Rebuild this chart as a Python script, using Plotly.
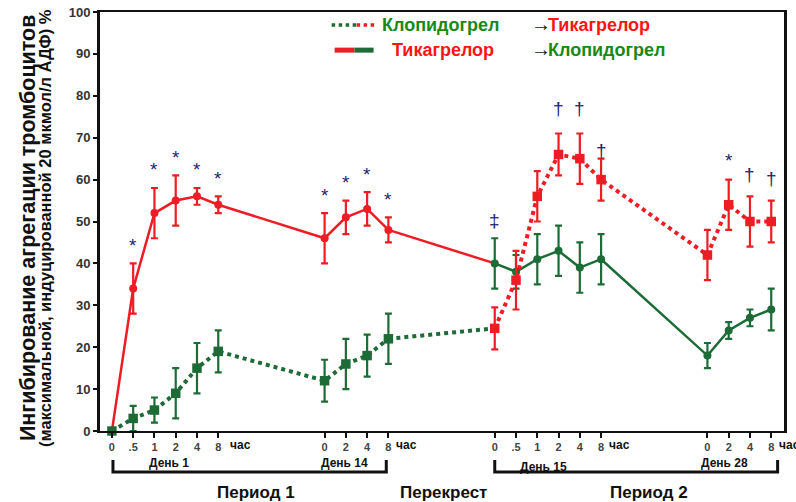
import plotly.graph_objects as go

# ---------------- data ----------------
time_labels_p1 = ["0", ".5", "1", "2", "4", "8", "0", "2", "4", "8"]
time_labels_p2 = ["0", ".5", "1", "2", "4", "8", "0", "2", "4", "8"]
slots_p1 = [0, 1, 2, 3, 4, 5, 10, 11, 12, 13]
slots_p2 = [18, 19, 20, 21, 22, 23, 28, 29, 30, 31]

# Period 1
tica_p1 = [0, 34, 52, 55, 56, 54, 46, 51, 53, 48]
tica_p1_err = [0, 6, 6, 6, 2, 2, 6, 4, 4, 3]
clop_p1 = [0, 3, 5, 9, 15, 19, 12, 16, 18, 22]
clop_p1_err = [0, 3, 3, 6, 6, 5, 5, 6, 5, 6]

# Period 2 (crossover)
tica_to_clop = [40, 38, 41, 43, 39, 41, 18, 24, 27, 29]
tica_to_clop_err = [6, 4, 6, 6, 6, 6, 3, 2, 2, 5]
clop_to_tica = [24.5, 36, 56, 66, 65, 60, 42, 54, 50, 50]
clop_to_tica_err = [5, 7, 6, 5, 6, 5, 6, 6, 6, 5]

marks_p1 = ["", "*", "*", "*", "*", "*", "*", "*", "*", "*"]
marks_p2 = ["", "", "", "†", "†", "†", "", "*", "†", "†"]
marks_p2_green = ["‡", "", "", "", "", "", "", "", "", ""]

RED = "#ee1c24"
GREEN = "#1d6b36"
NAVY = "#24246b"
TXT_GREEN = "#168a16"
TXT_RED = "#ff1414"
FONT = "Liberation Sans, Arial, sans-serif"

fig = go.Figure()

# connectors between periods
fig.add_trace(go.Scatter(x=[slots_p1[-1], slots_p2[0]], y=[clop_p1[-1], clop_to_tica[0]],
                         mode="lines", line=dict(color=GREEN, width=4, dash="dot"),
                         showlegend=False, hoverinfo="skip"))
fig.add_trace(go.Scatter(x=[slots_p1[-1], slots_p2[0]], y=[tica_p1[-1], tica_to_clop[0]],
                         mode="lines", line=dict(color=RED, width=2.5),
                         showlegend=False, hoverinfo="skip"))

fig.add_trace(go.Scatter(x=slots_p1, y=tica_p1, mode="lines+markers",
                         line=dict(color=RED, width=2.5),
                         marker=dict(symbol="circle", size=8, color=RED),
                         error_y=dict(type="data", array=tica_p1_err, color=RED,
                                      thickness=2.2, width=3.5),
                         cliponaxis=False, showlegend=False))
fig.add_trace(go.Scatter(x=slots_p1, y=clop_p1, mode="lines+markers",
                         line=dict(color=GREEN, width=4, dash="dot"),
                         marker=dict(symbol="square", size=9.5, color=GREEN),
                         error_y=dict(type="data", array=clop_p1_err, color=GREEN,
                                      thickness=2.2, width=3.5),
                         cliponaxis=False, showlegend=False))
fig.add_trace(go.Scatter(x=slots_p2, y=tica_to_clop, mode="lines+markers",
                         line=dict(color=GREEN, width=2.5),
                         marker=dict(symbol="circle", size=8, color=GREEN),
                         error_y=dict(type="data", array=tica_to_clop_err, color=GREEN,
                                      thickness=2.2, width=3.5),
                         cliponaxis=False, showlegend=False))
fig.add_trace(go.Scatter(x=slots_p2, y=clop_to_tica, mode="lines+markers",
                         line=dict(color=RED, width=4, dash="dot"),
                         marker=dict(symbol="square", size=9.5, color=RED),
                         error_y=dict(type="data", array=clop_to_tica_err, color=RED,
                                      thickness=2.2, width=3.5),
                         cliponaxis=False, showlegend=False))

annotations = []
shapes = []


def add_marks(xs, vals, errs, marks, shift_default=15):
    for x, v, e, m in zip(xs, vals, errs, marks):
        if not m:
            continue
        ys = shift_default
        if m == "*":
            ys = shift_default - 3
        annotations.append(dict(x=x, y=v + e, xref="x", yref="y", text=m, showarrow=False,
                                xanchor="center", yanchor="middle", yshift=ys,
                                font=dict(family=FONT, size=19, color=NAVY)))


add_marks(slots_p1, tica_p1, tica_p1_err, marks_p1, 21)
add_marks(slots_p2[:5], clop_to_tica[:5], clop_to_tica_err[:5], marks_p2[:5], 25)
add_marks(slots_p2[5:6], clop_to_tica[5:6], clop_to_tica_err[5:6], marks_p2[5:6], 8)
add_marks(slots_p2[6:], clop_to_tica[6:], clop_to_tica_err[6:], marks_p2[6:], 22)
add_marks(slots_p2, tica_to_clop, tica_to_clop_err, marks_p2_green, 18)

# "час" labels
TICK_Y = -0.0334
for s, dx in [(slots_p1[5], 10), (slots_p1[9], 6), (slots_p2[5], 6), (slots_p2[9], 6)]:
    annotations.append(dict(x=s, y=TICK_Y, xref="x", yref="paper", text="<b>час</b>",
                            showarrow=False, xanchor="left", yanchor="middle", xshift=dx,
                            font=dict(family=FONT, size=12, color="#111")))

for txt, x, y in [("День 1", 2.68, -0.0764), ("День 14", 10.94, -0.0764),
                  ("День 15", 20.28, -0.086), ("День 28", 28.8, -0.0764)]:
    annotations.append(dict(x=x, y=y, xref="x", yref="paper", text="<b>" + txt + "</b>",
                            showarrow=False, xanchor="center", yanchor="middle",
                            font=dict(family=FONT, size=12, color="#111")))

for txt, x in [("Период 1", 6.76), ("Перекрест", 15.6), ("Период 2", 25.26)]:
    annotations.append(dict(x=x, y=-0.1456, xref="x", yref="paper", text="<b>" + txt + "</b>",
                            showarrow=False, xanchor="center", yanchor="middle",
                            font=dict(family=FONT, size=17, color="#111")))

for x0, x1 in [(0.05, 12.9), (18.0, 31.3)]:
    shapes.append(dict(type="path", xref="x", yref="paper",
                       path=f"M {x0},-0.0692 L {x0},-0.0979 L {x1},-0.0979 L {x1},-0.0692",
                       line=dict(color="#111", width=3)))

annotations.append(dict(x=-0.1051, y=0.4845, xref="paper", yref="paper",
                        text="<b>Ингибирование агрегации тромбоцитов</b>", textangle=-90,
                        showarrow=False, xanchor="center", yanchor="middle",
                        font=dict(family=FONT, size=21.5, color="#111")))
annotations.append(dict(x=-0.0803, y=0.4845, xref="paper", yref="paper",
                        text="<b>(максимальной, индуцированной 20 мкмол/л АДФ) %</b>", textangle=-90,
                        showarrow=False, xanchor="center", yanchor="middle",
                        font=dict(family=FONT, size=16.5, color="#111")))

shapes += [
    dict(type="line", xref="paper", yref="paper", x0=0.3387, x1=0.3752, y0=0.969, y1=0.969,
         line=dict(color=GREEN, width=3.5, dash="dot")),
    dict(type="line", xref="paper", yref="paper", x0=0.3752, x1=0.4044, y0=0.969, y1=0.969,
         line=dict(color=RED, width=3.5, dash="dot")),
    dict(type="line", xref="paper", yref="paper", x0=0.343, x1=0.372, y0=0.909, y1=0.909,
         line=dict(color=RED, width=5)),
    dict(type="line", xref="paper", yref="paper", x0=0.372, x1=0.400, y0=0.909, y1=0.909,
         line=dict(color=GREEN, width=5)),
]
for txt, x, y, col in [("Клопидогрел", 0.4088, 0.969, TXT_GREEN),
                       ("Тикагрелор", 0.4234, 0.909, TXT_RED),
                       ("Тикагрелор", 0.652, 0.969, TXT_RED),
                       ("Клопидогрел", 0.652, 0.909, TXT_GREEN)]:
    annotations.append(dict(x=x, y=y, xref="paper", yref="paper", text="<b>" + txt + "</b>",
                            showarrow=False, xanchor="left", yanchor="middle",
                            font=dict(family=FONT, size=18, color=col)))
for y in [0.969, 0.909]:
    annotations.append(dict(x=0.6555, y=y, xref="paper", yref="paper", text="→",
                            showarrow=False, xanchor="right", yanchor="middle", yshift=1,
                            xshift=5,
                            font=dict(family=FONT, size=20, color="#111")))

fig.update_layout(
    width=796, height=502, autosize=False,
    margin=dict(l=100, r=12, t=12, b=71, pad=0),
    paper_bgcolor="white", plot_bgcolor="white",
    font=dict(family=FONT),
    showlegend=False,
    annotations=annotations,
    shapes=shapes,
)
fig.update_xaxes(
    range=[-0.56, 31.6], tickvals=slots_p1 + slots_p2, ticktext=time_labels_p1 + time_labels_p2,
    ticks="outside", ticklen=5, tickwidth=2, tickcolor="#111",
    showline=True, linecolor="#111", linewidth=2, mirror=True,
    showgrid=False, zeroline=False, automargin=False,
    tickfont=dict(family=FONT, size=11, color="#444", weight="bold"),
)
fig.update_yaxes(
    range=[0, 100], tickvals=list(range(0, 101, 10)),
    ticks="outside", ticklen=4, tickwidth=1.5, tickcolor="#111",
    showline=True, linecolor="#111", linewidth=3, mirror=True,
    showgrid=False, zeroline=False, automargin=False,
    tickfont=dict(family=FONT, size=13, color="#333", weight="bold"),
)

fig.write_html("out.html", config={"displayModeBar": False},
               post_script="document.body.style.margin='0px';")
